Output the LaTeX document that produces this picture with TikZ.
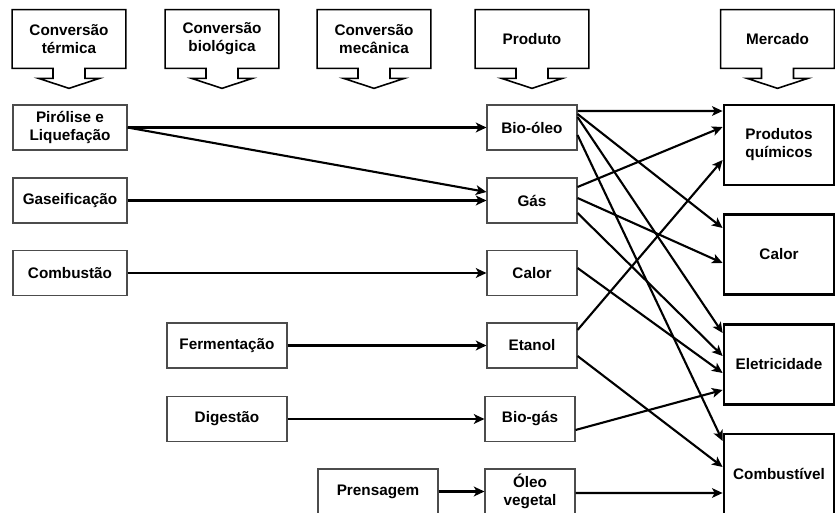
\documentclass[tikz,border=0pt]{standalone}
\usepackage{fontspec}
\setmainfont{Liberation Sans}
\usetikzlibrary{arrows.meta}

\begin{document}
\begin{tikzpicture}[x=0.02cm,y=-0.02cm,font=\fontsize{8.7}{10.3}\selectfont\bfseries,
    box/.style={draw=black!70,line width=0.6pt,minimum height=0.9cm,align=center,inner sep=0pt},
    mkt/.style={draw,line width=1.6pt,minimum width=2.2cm,minimum height=1.6cm,align=center,inner sep=0pt},
    hd/.style={minimum width=2.26cm,minimum height=1.16cm,align=center,inner sep=0pt},
    hdr/.style={line width=0.9pt,line join=miter},
    arr/.style={line width=1.2pt,-{Stealth[length=6pt,width=5.5pt,inset=1.5pt]}}]
  \useasboundingbox (0,0) rectangle (835,513);

  % headers
  \foreach \x/\n/\t in {69/tc/{Conversão\\térmica},222/bc/{Conversão\\biológica},374/mc/{Conversão\\mecânica},532/pd/Produto,777.5/mk/Mercado}{
    \node[hd] (\n) at (\x,39) {\t};
    \draw[hdr] (\n.south west) -- (\n.north west) -- (\n.north east) -- (\n.south east) -- ([xshift=.32cm]\n.south)
      -- ++(0,10) -- ++(14.5,0) -- ++(-30.5,10) -- ++(-30.5,-10) -- ++(14.5,0) -- ++(0,-10) -- cycle;
  }

  % processos
  \node[box,minimum width=2.28cm] (pl) at (70,127.5) {Pirólise e\\Liquefação};
  \node[box,minimum width=2.28cm] (gs) at (70,200.5) {Gaseificação};
  \node[box,minimum width=2.28cm] (cb) at (70,273) {Combustão};
  \node[box,minimum width=2.4cm] (fm) at (227,345.5) {Fermentação};
  \node[box,minimum width=2.4cm] (dg) at (227,419) {Digestão};
  \node[box,minimum width=2.4cm] (pr) at (378,491.5) {Prensagem};

  % produtos
  \node[box,minimum width=1.8cm] (bo) at (532,127.5) {Bio-óleo};
  \node[box,minimum width=1.8cm] (ga) at (532,200.5) {Gás};
  \node[box,minimum width=1.8cm] (ca) at (532,273) {Calor};
  \node[box,minimum width=1.8cm] (et) at (532,345.5) {Etanol};
  \node[box,minimum width=1.8cm] (bg) at (530,419) {Bio-gás};
  \node[box,minimum width=1.8cm] (ov) at (530,491.5) {Óleo\\vegetal};

  % mercado
  \node[mkt] (pq) at (779,145) {Produtos\\químicos};
  \node[mkt] (cl) at (779,254.5) {Calor};
  \node[mkt] (el) at (779,364.5) {Eletricidade};
  \node[mkt] (co) at (779,474) {Combustível};

  % processo -> produto
  \draw[arr] (pl.east) -- (bo.west);
  \draw[arr] (pl.east) -- ([yshift=.17cm]ga.west);
  \draw[arr] (gs.east) -- (ga.west);
  \draw[arr] (cb.east) -- (ca.west);
  \draw[arr] (fm.east) -- (et.west);
  \draw[arr] (dg.east) -- (bg.west);
  \draw[arr] (pr.east) -- (ov.west);

  % produto -> mercado
  \draw[arr] ([yshift=.33cm]bo.east) -- ([yshift=.68cm]pq.west);
  \draw[arr] ([yshift=.27cm]bo.east) -- ([yshift=.53cm]cl.west);
  \draw[arr] ([yshift=.21cm]bo.east) -- ([yshift=.63cm]el.west);
  \draw[arr] ([yshift=-.15cm]bo.east) -- ([yshift=.66cm]co.west);
  \draw[arr] ([yshift=.27cm]ga.east) -- ([yshift=.36cm]pq.west);
  \draw[arr] ([yshift=.05cm]ga.east) -- ([yshift=-.17cm]cl.west);
  \draw[arr] ([yshift=-.25cm]ga.east) -- ([yshift=.17cm]el.west);
  \draw[arr] ([yshift=.1cm]ca.east) -- ([yshift=-.17cm]el.west);
  \draw[arr] ([yshift=.31cm]et.east) -- ([yshift=-.3cm]pq.west);
  \draw[arr] ([yshift=-.21cm]et.east) -- ([yshift=.14cm]co.west);
  \draw[arr] ([yshift=-.22cm]bg.east) -- ([yshift=-.51cm]el.west);
  \draw[arr] ([yshift=-.03cm]ov.east) -- ([yshift=-.38cm]co.west);
\end{tikzpicture}
\end{document}
